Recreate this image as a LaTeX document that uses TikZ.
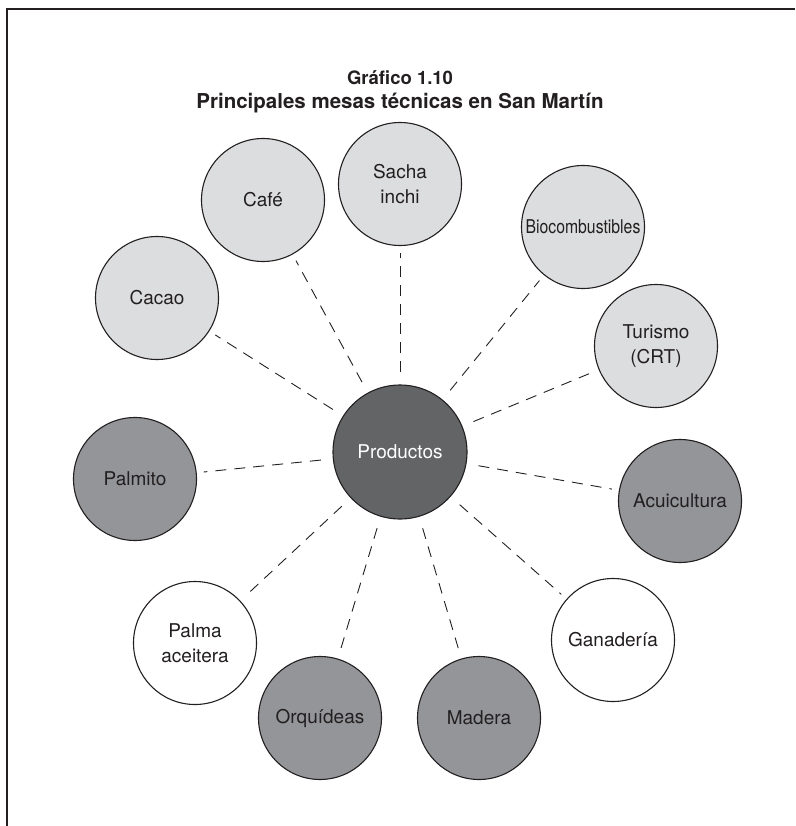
\documentclass[tikz,border=0pt]{standalone}
\usepackage{fontspec}
\setmainfont{TeX Gyre Heros}
\usetikzlibrary{positioning}

\definecolor{lightgr}{HTML}{DCDDDE}
\definecolor{midgr}{HTML}{939598}
\definecolor{darkgr}{HTML}{636466}
\definecolor{ink}{HTML}{231F20}

\begin{document}
\begin{tikzpicture}[x=1pt,y=-1pt]
            \tikzstyle{mesa}=[circle,draw=ink,line width=1.1pt,minimum size=123pt,inner sep=0pt,align=center,font=\fontsize{19}{25}\selectfont,text=ink]
            \tikzstyle{link}=[draw=ink,line width=0.9pt,dash pattern=on 11pt off 8pt,shorten <=12pt,shorten >=7pt]

            \tikzstyle{L}=[mesa,fill=lightgr]   % light group
            \tikzstyle{D}=[mesa,fill=midgr]     % dark group
            \tikzstyle{W}=[mesa,fill=white]     % white group
            \tikzstyle{P}=[mesa,fill=darkgr,text=white,minimum size=134pt]  % hub

            \useasboundingbox (0,0) rectangle (795,826);
            \draw[ink,line width=1.2pt] (795,9) -- (7,9) -- (7,826);

            \node[font=\bfseries\fontsize{18.5}{20}\selectfont,text=ink] (num) at (400,78) {Gráfico 1.10};
            \node[font=\bfseries\fontsize{20.5}{24}\selectfont,text=ink] (title) at (400,103) {Principales mesas técnicas en San Martín};

            \node[P] (prod) at (400,452) {Productos};

            \node[L] (sacha)   at (400,184) {Sacha\\inchi};
            \node[L] (cafe)    at (263,200) {Café};
            \node[L] (bio)     at (583,227) {\scalebox{0.83}[1]{Biocombustibles}};
            \node[L] (cacao)   at (157,298) {Cacao};
            \node[L] (turismo) at (656,346) {Turismo\\(CRT)};
            \node[D] (palmito) at (135,479) {Palmito};
            \node[D] (acui)    at (680,501) {Acuicultura};
            \node[W] (palma)   at (195,643) {Palma\\aceitera};
            \node[W] (ganad)   at (613,640) {Ganadería};
            \node[D] (orq)     at (320,718) {Orquídeas};
            \node[D] (madera)  at (479,718) {Madera};

            \path[link] (prod) edge (sacha);
            \path[link] (prod) edge (cafe);
            \path[link] (prod) edge (bio);
            \path[link] (prod) edge (cacao);
            \path[link] (prod) edge (turismo);
            \path[link] (prod) edge (palmito);
            \path[link] (prod) edge (acui);
            \path[link] (prod) edge (palma);
            \path[link] (prod) edge (ganad);
            \path[link] (prod) edge (orq);
            \path[link] (prod) edge (madera);
\end{tikzpicture}
\end{document}
